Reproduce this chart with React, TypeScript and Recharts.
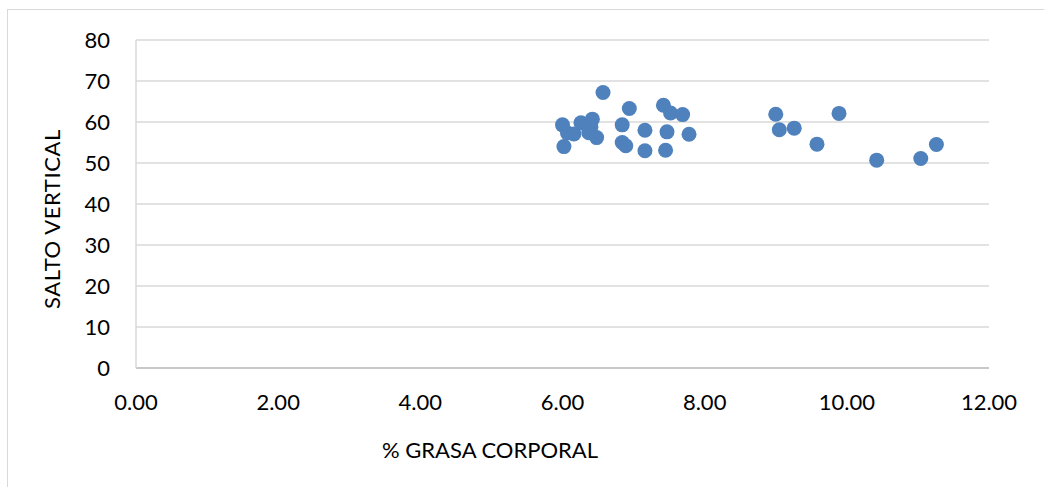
import { ScatterChart, Scatter, XAxis, YAxis, CartesianGrid, Label } from 'recharts'

// % grasa corporal (x) vs salto vertical (y)
const grasa = [
  6.57, 6.0, 6.02, 6.07, 6.16, 6.26, 6.42, 6.4, 6.37, 6.48,
  6.94, 6.84, 6.84, 6.89, 7.16, 7.16, 7.42, 7.52, 7.69, 7.47,
  7.45, 7.78, 9.0, 9.05, 9.26, 9.58, 9.89, 10.42, 11.04, 11.26,
]
const salto = [
  67.2, 59.3, 54.0, 57.3, 57.1, 59.8, 60.7, 58.8, 57.4, 56.2,
  63.3, 59.3, 55.0, 54.2, 58.0, 53.0, 64.1, 62.2, 61.8, 57.6,
  53.1, 57.0, 61.9, 58.1, 58.5, 54.6, 62.1, 50.7, 51.1, 54.5,
]
const xTicks = [0, 2, 4, 6, 8, 10, 12]
const yTicks = [0, 10, 20, 30, 40, 50, 60, 70, 80]

const points = grasa.map((x, i) => ({ x, y: salto[i] }))

const font = 'Lato, "Open Sans", sans-serif'
const tickStyle = { fill: '#000', fontSize: 22, fontFamily: font }

export default function App() {
  return (
    <div style={{ position: 'absolute', left: 0, top: 0, width: 1044, height: 487, background: '#fff', overflow: 'hidden' }}>
      <div style={{ position: 'absolute', left: 7, top: 9, width: 1100, height: 600, border: '1px solid #d9d9d9' }} />
      <ScatterChart width={1044} height={487} margin={{ top: 40, right: 55, bottom: 39, left: 66 }}>
        <CartesianGrid horizontal vertical={false} stroke="#d9d9d9" strokeWidth={1.5} />
        <XAxis
          type="number"
          dataKey="x"
          domain={[0, 12]}
          ticks={xTicks}
          tickFormatter={(v: number) => v.toFixed(2)}
          height={80}
          tickLine={false}
          tickSize={0}
          tickMargin={26}
          axisLine={{ stroke: '#bfbfbf', strokeWidth: 1.5 }}
          tick={tickStyle}
        >
          <Label
            content={() => (
              <text x={490} y={458} textAnchor="middle" fontSize={22} fontFamily={font} fill="#000">
                % GRASA CORPORAL
              </text>
            )}
          />
        </XAxis>
        <YAxis
          type="number"
          dataKey="y"
          domain={[0, 80]}
          ticks={yTicks}
          width={70}
          tickLine={false}
          tickSize={0}
          tickMargin={26}
          axisLine={{ stroke: '#d9d9d9', strokeWidth: 1.5 }}
          tick={tickStyle}
        >
          <Label
            content={() => (
              <text
                x={60}
                y={219}
                transform="rotate(-90 60 219)"
                textAnchor="middle"
                fontSize={22}
                letterSpacing={0.6}
                fontFamily={font}
                fill="#000"
              >
                SALTO VERTICAL
              </text>
            )}
          />
        </YAxis>
        <Scatter
          data={points}
          fill="#4f81bd"
          isAnimationActive={false}
          shape={(p: any) => <circle cx={p.cx} cy={p.cy} r={7.5} fill="#4f81bd" />}
        />
      </ScatterChart>
    </div>
  )
}
